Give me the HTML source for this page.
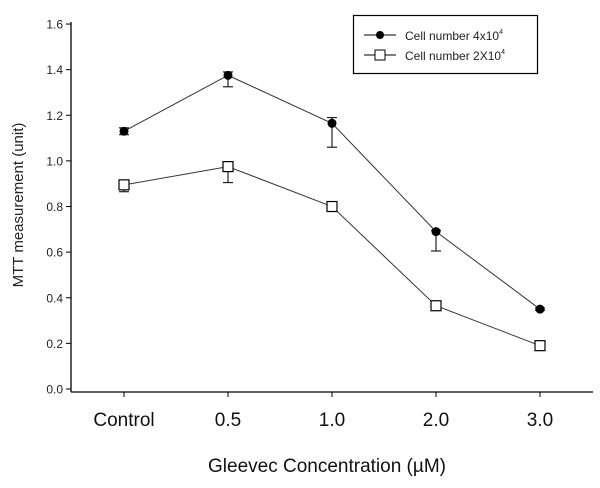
<!DOCTYPE html>
<html><head><meta charset="utf-8"><style>
html,body{margin:0;padding:0;background:#fff;}
svg{display:block;font-family:"Liberation Sans",Arial,sans-serif;}
</style></head><body>
<svg id="chart" width="600" height="488" viewBox="0 0 600 488"></svg>
<script>
const categories = ["Control","0.5","1.0","2.0","3.0"];
const series1 = [1.13, 1.375, 1.165, 0.69, 0.35];
const series1Up = [0.015, 0.015, 0.025, 0.005, 0.005];
const series1Down = [0.015, 0.05, 0.105, 0.085, 0.005];
const series2 = [0.895, 0.975, 0.80, 0.365, 0.19];
const series2Up = [0.005, 0.005, 0.005, 0.005, 0.005];
const series2Down = [0.03, 0.07, 0.005, 0.005, 0.005];
const yTicks = [0, 0.2, 0.4, 0.6, 0.8, 1.0, 1.2, 1.4, 1.6];

const NS = "http://www.w3.org/2000/svg";
const svg = document.getElementById("chart");
function el(tag, attrs, parent){ const e=document.createElementNS(NS,tag); for(const k in attrs) e.setAttribute(k,attrs[k]); (parent||svg).appendChild(e); return e; }
const y = v => 389 - v * 228.1;
const x = i => 124 + i * 104;

// axes
const ya = el("line",{x1:71,y1:22,x2:71,y2:392,stroke:"#000","stroke-width":1.3});


const xa = el("line",{x1:71,y1:392,x2:593,y2:392,stroke:"#000","stroke-width":1.3});



yTicks.forEach(t=>{
  el("line",{x1:66,y1:y(t),x2:71,y2:y(t),stroke:"#000","stroke-width":1});
  const tx = el("text",{x:63,y:y(t)+4.5,"text-anchor":"end","font-size":12,fill:"#222"});
  tx.textContent = t.toFixed(1);
  
  
});
categories.forEach((c,i)=>{
  el("line",{x1:x(i),y1:392,x2:x(i),y2:397,stroke:"#000","stroke-width":1});
  const tx = el("text",{x:x(i),y:426,"text-anchor":"middle","font-size":19,fill:"#111"});
  tx.textContent = c;
  
  
});

function drawSeries(vals, up, down, filled, name){
  const g = el("g",{});
  
  
  el("polyline",{points:vals.map((v,i)=>x(i)+","+y(v)).join(" "),fill:"none",stroke:"#333","stroke-width":1},g);
  vals.forEach((v,i)=>{
    const yt=y(v+up[i]), yb=y(v-down[i]);
    el("line",{x1:x(i),y1:yt,x2:x(i),y2:yb,stroke:"#222","stroke-width":1.2},g);
    el("line",{x1:x(i)-5,y1:yt,x2:x(i)+5,y2:yt,stroke:"#222","stroke-width":1.2},g);
    el("line",{x1:x(i)-5,y1:yb,x2:x(i)+5,y2:yb,stroke:"#222","stroke-width":1.2},g);
    let m;
    if(filled) m = el("circle",{cx:x(i),cy:y(v),r:4.5,fill:"#000"},g);
    else m = el("rect",{x:x(i)-5,y:y(v)-5,width:10,height:10,fill:"#fff",stroke:"#000","stroke-width":1.2},g);
    
    
  });
}
drawSeries(series2, series2Up, series2Down, false, "series-2x10-4");
drawSeries(series1, series1Up, series1Down, true, "series-4x10-4");

// legend
const lg = el("g",{});


el("rect",{x:353.5,y:15.5,width:184,height:58,fill:"#fff",stroke:"#000","stroke-width":1.2},lg);
el("line",{x1:364,y1:35,x2:396,y2:35,stroke:"#000"},lg);
el("circle",{cx:380,cy:35,r:4,fill:"#000"},lg);
el("line",{x1:364,y1:55,x2:396,y2:55,stroke:"#000"},lg);
el("rect",{x:375,y:50,width:10,height:10,fill:"#fff",stroke:"#000"},lg);
const l1 = el("text",{x:405,y:40,"font-size":12,fill:"#222"},lg);
l1.innerHTML = 'Cell number 4x10<tspan dy="-6" font-size="7">4</tspan>';


const l2 = el("text",{x:405,y:60,"font-size":12,fill:"#222"},lg);
l2.innerHTML = 'Cell number 2X10<tspan dy="-6" font-size="7">4</tspan>';



const xt = el("text",{x:327,y:472,"text-anchor":"middle","font-size":19,fill:"#111"});
xt.textContent = "Gleevec Concentration (\u00B5M)";


const yt = el("text",{x:0,y:0,"text-anchor":"middle","font-size":15,fill:"#222",transform:"translate(23,205) rotate(-90)"});
yt.textContent = "MTT measurement (unit)";


</script>
</body></html>
